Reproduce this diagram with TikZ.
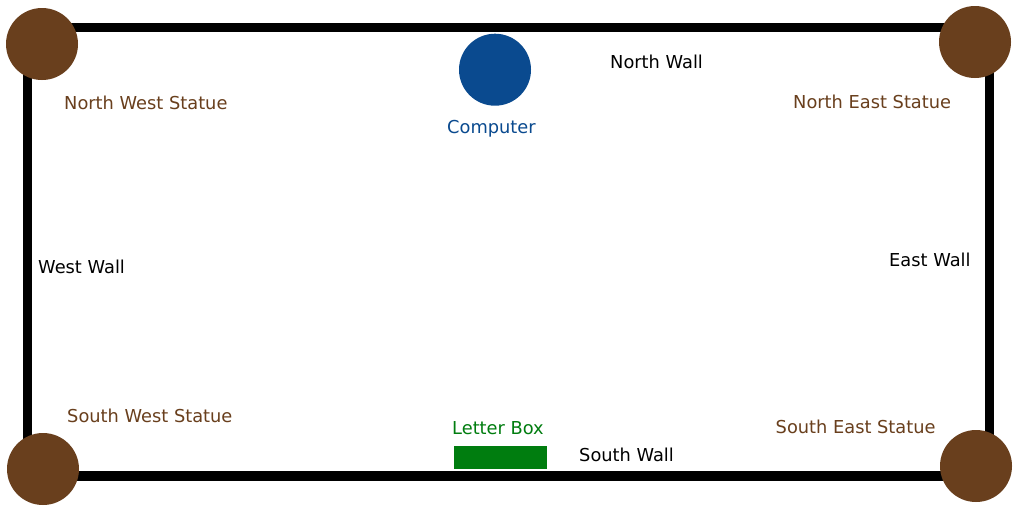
\documentclass[tikz,border=0pt]{standalone}
\usepackage{fontspec}
\setmainfont{DejaVu Sans}
\definecolor{statuebrown}{RGB}{105,63,29}
\definecolor{compblue}{RGB}{10,74,143}
\definecolor{boxgreen}{RGB}{0,125,15}
\begin{document}
\begin{tikzpicture}[x=1pt,y=-1pt,
  statue/.style={circle,fill=statuebrown,minimum size=72pt,inner sep=0pt},
  lbl/.style={anchor=base west,inner sep=0pt,font=\fontsize{17.8pt}{20pt}\selectfont},
  wall/.style={line width=9.5pt,black}]
\useasboundingbox (0,0) rectangle (1024,512);
\fill[white] (0,0) rectangle (1024,512);
% walls
\draw[wall] (27.5,27.7) rectangle (989.5,476);
% statues
\node[statue] (nw) at (42,44) {};
\node[statue] (ne) at (975,42) {};
\node[statue] (sw) at (43,469) {};
\node[statue] (se) at (976,466) {};
% computer
\node[circle,fill=compblue,minimum size=72pt,inner sep=0pt] (comp) at (495,69.7) {};
% letter box
\node[fill=boxgreen,minimum width=93pt,minimum height=23pt,inner sep=0pt] (lbox) at (500.5,457.5) {};
% labels
\node[lbl,text=statuebrown] (nwl) at (64,109.3) {North West Statue};
\node[lbl,text=statuebrown] (nel) at (793,108.8) {North East Statue};
\node[lbl,text=statuebrown] (swl) at (67,422.3) {South West Statue};
\node[lbl,text=statuebrown] (sel) at (775.5,433.6) {South East Statue};
\node[lbl,text=compblue] (compl) at (447,133) {Computer};
\node[lbl,text=boxgreen] (lboxl) at (452,434.3) {Letter Box};
\node[lbl] (nwall) at (610,68) {North Wall};
\node[lbl] (wwall) at (38,273) {West Wall};
\node[lbl] (ewall) at (889,266.3) {East Wall};
\node[lbl] (swall) at (579,461.6) {South Wall};
\end{tikzpicture}
\end{document}
